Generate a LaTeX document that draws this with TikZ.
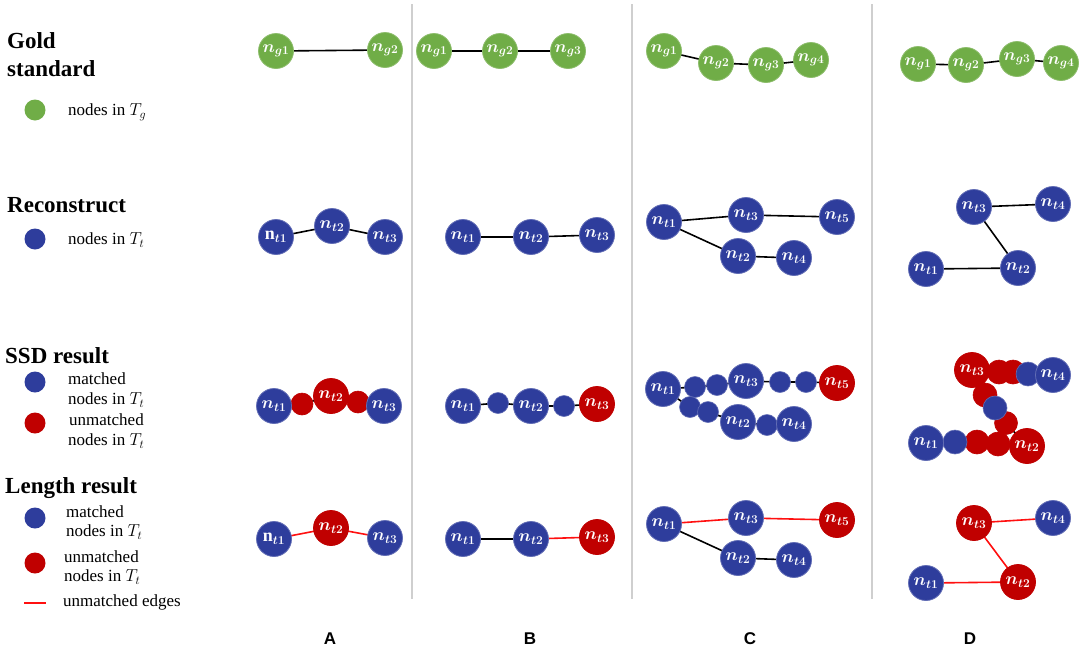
\documentclass[tikz,border=0pt]{standalone}
\usepackage{fontspec}
\setmainfont{Liberation Serif}
\newfontfamily\lettersans{Liberation Sans}
\usetikzlibrary{backgrounds}
\pgfdeclarelayer{back}
\pgfsetlayers{back,background,main}
\definecolor{ggreen}{HTML}{70AD47}
\definecolor{bblue}{HTML}{2E3D9C}
\definecolor{rred}{HTML}{C00000}
\definecolor{redgecol}{HTML}{FF1010}
\definecolor{sepgray}{HTML}{CFCFCF}
\begin{document}
\begin{tikzpicture}[x=1pt,y=-1pt,
  nd/.style={circle,inner sep=0pt,minimum size=35pt,text=white,font=\fontsize{18}{18}\selectfont\boldmath,line width=0.8pt},
  gn/.style={nd,fill=ggreen,draw=ggreen!80!white},
  bn/.style={nd,fill=bblue,draw=bblue!75!white},
  rn/.style={nd,fill=rred,draw=rred},
  sbn/.style={circle,inner sep=0pt,minimum size=21pt,fill=bblue,draw=bblue!75!white,line width=0.6pt},
  srn/.style={circle,inner sep=0pt,minimum size=22pt,fill=rred,draw=rred,line width=0.6pt},
  bk/.style={line width=1.6pt,black},
  rdg/.style={line width=1.6pt,redgecol},
  ttl/.style={font=\fontsize{23}{23}\selectfont\bfseries,anchor=base west,inner sep=0pt},
  leg/.style={font=\fontsize{17}{17}\selectfont,anchor=west,inner sep=0pt},
  lgc/.style={circle,inner sep=0pt,minimum size=21pt},
  colname/.style={font=\lettersans\fontsize{17}{17}\selectfont\bfseries,inner sep=0pt},
  sepline/.style={line width=2pt,sepgray}
]
\useasboundingbox (0,0) rectangle (1084,654);
\begin{pgfonlayer}{back}
\fill[white] (0,0) rectangle (1084,654);
\end{pgfonlayer}

% separators
\coordinate (s1t) at (412,4); \coordinate (s1b) at (412,599);
\coordinate (s2t) at (632,4); \coordinate (s2b) at (632,599);
\coordinate (s3t) at (872,4); \coordinate (s3b) at (872,599);
\draw[sepline] (s1t) -- (s1b);
\draw[sepline] (s2t) -- (s2b);
\draw[sepline] (s3t) -- (s3b);

% legend
\node[ttl] (t1) at (7,48) {Gold};
\node[ttl] (t2) at (7,76) {standard};
\node[lgc,fill=ggreen] (lg1) at (35,110) {};
\node[leg] (lt1) at (68,112) {nodes in $T_g$};

\node[ttl] (t3) at (7,212) {Reconstruct};
\node[lgc,fill=bblue] (lg2) at (35,239) {};
\node[leg] (lt2) at (68,240) {nodes in $T_t$};

\node[ttl] (t4) at (5,363) {SSD result};
\node[lgc,fill=bblue] (lg3) at (35,382) {};
\node[leg] (lt3) at (68,379) {matched};
\node[leg] (lt4) at (68,400) {nodes in $T_t$};
\node[lgc,fill=rred] (lg4) at (35,423) {};
\node[leg] (lt5) at (69,420) {unmatched};
\node[leg] (lt6) at (68,441) {nodes in $T_t$};

\node[ttl] (t5) at (5,493) {Length result};
\node[lgc,fill=bblue] (lg5) at (35,518) {};
\node[leg] (lt7) at (66,512) {matched};
\node[leg] (lt8) at (66,532) {nodes in $T_t$};
\node[lgc,fill=rred] (lg6) at (35,563) {};
\node[leg] (lt9) at (64,557) {unmatched};
\node[leg] (lt10) at (64,577) {nodes in $T_t$};
\coordinate (lr1) at (24,603); \coordinate (lr2) at (46,603);
\draw[line width=2.5pt,redgecol] (lr1) -- (lr2);
\node[leg] (lt11) at (63,602) {unmatched edges};

% column names
\node[colname] (LA) at (330,639) {A};
\node[colname] (LB) at (530,639) {B};
\node[colname] (LC) at (750,639) {C};
\node[colname] (LD) at (970,639) {D};

% ---------- Gold standard
\node[gn] (Ag1) at (276,51) {$n_{g1}$};
\node[gn] (Ag2) at (385,50) {$n_{g2}$};
\node[gn] (Bg1) at (434,51) {$n_{g1}$};
\node[gn] (Bg2) at (500,51) {$n_{g2}$};
\node[gn] (Bg3) at (568,51) {$n_{g3}$};
\node[gn] (Cg1) at (664,51) {$n_{g1}$};
\node[gn] (Cg2) at (716,63) {$n_{g2}$};
\node[gn] (Cg3) at (766,65) {$n_{g3}$};
\node[gn] (Cg4) at (811,60) {$n_{g4}$};
\node[gn] (Dg1) at (918,64) {$n_{g1}$};
\node[gn] (Dg2) at (966,65) {$n_{g2}$};
\node[gn] (Dg3) at (1017,59) {$n_{g3}$};
\node[gn] (Dg4) at (1061,63) {$n_{g4}$};

% ---------- Reconstruct
\node[bn] (Ar1) at (276,237) {$\mathrm{n}_{t1}$};
\node[bn] (Ar2) at (332,226) {$n_{t2}$};
\node[bn] (Ar3) at (385,237) {$n_{t3}$};
\node[bn] (Br1) at (463,237) {$n_{t1}$};
\node[bn] (Br2) at (531,237) {$n_{t2}$};
\node[bn] (Br3) at (597,235) {$n_{t3}$};
\node[bn] (Cr1) at (664,222) {$n_{t1}$};
\node[bn] (Cr3) at (746,215) {$n_{t3}$};
\node[bn] (Cr5) at (837,217) {$n_{t5}$};
\node[bn] (Cr2) at (738,256) {$n_{t2}$};
\node[bn] (Cr4) at (794,258) {$n_{t4}$};
\node[bn] (Dr3) at (974,207) {$n_{t3}$};
\node[bn] (Dr4) at (1053,204) {$n_{t4}$};
\node[bn] (Dr2) at (1018,268) {$n_{t2}$};
\node[bn] (Dr1) at (926,269) {$n_{t1}$};

% ---------- SSD result
\node[srn] (Asa) at (302,404) {};
\node[srn] (Asb) at (358,402) {};
\node[bn] (As1) at (274,406) {$n_{t1}$};
\node[rn] (As2) at (331,396) {$n_{t2}$};
\node[bn] (As3) at (384,406) {$n_{t3}$};

\node[sbn] (Bsa) at (498,403) {};
\node[sbn] (Bsb) at (564,406) {};
\node[bn] (Bs1) at (463,406) {$n_{t1}$};
\node[bn] (Bs2) at (531,406) {$n_{t2}$};
\node[rn] (Bs3) at (597,404) {$n_{t3}$};

\node[sbn] (Csa) at (695,387) {};
\node[sbn] (Csb) at (717,385) {};
\node[sbn] (Csc) at (780,382) {};
\node[sbn] (Csd) at (806,382) {};
\node[sbn] (Cse) at (690,407) {};
\node[sbn] (Csf) at (708,412) {};
\node[sbn] (Csg) at (767,425) {};
\node[bn] (Cs1) at (663,389) {$n_{t1}$};
\node[bn] (Cs3) at (746,381) {$n_{t3}$};
\node[rn] (Cs5) at (837,383) {$n_{t5}$};
\node[bn] (Cs2) at (738,422) {$n_{t2}$};
\node[bn] (Cs4) at (794,424) {$n_{t4}$};

\node[srn,minimum size=24pt] (Dsa) at (999,372) {};
\node[srn,minimum size=24pt] (Dsb) at (1013,372) {};
\node[srn,minimum size=24pt] (Dsd) at (985,395) {};
\node[srn,minimum size=23pt] (Dsf) at (1006,423) {};
\node[srn,minimum size=24pt] (Dsg) at (998,444) {};
\node[srn,minimum size=24pt] (Dsh) at (977,442) {};
\node[sbn,minimum size=24pt] (Dsc) at (1028,374) {};
\node[sbn,minimum size=24pt] (Dse) at (995,408) {};
\node[sbn,minimum size=24pt] (Dsi) at (955,442) {};
\node[rn] (Ds3) at (972,370) {$n_{t3}$};
\node[bn] (Ds4) at (1053,375) {$n_{t4}$};
\node[rn] (Ds2) at (1027,446) {$n_{t2}$};
\node[bn] (Ds1) at (926,443) {$n_{t1}$};

% ---------- Length result
\node[bn] (Al1) at (274,539) {$\mathrm{n}_{t1}$};
\node[rn] (Al2) at (331,528) {$n_{t2}$};
\node[bn] (Al3) at (385,538) {$n_{t3}$};
\node[bn] (Bl1) at (463,539) {$n_{t1}$};
\node[bn] (Bl2) at (531,539) {$n_{t2}$};
\node[rn] (Bl3) at (597,537) {$n_{t3}$};
\node[bn] (Cl1) at (664,524) {$n_{t1}$};
\node[bn] (Cl3) at (746,518) {$n_{t3}$};
\node[rn] (Cl5) at (837,520) {$n_{t5}$};
\node[bn] (Cl2) at (738,558) {$n_{t2}$};
\node[bn] (Cl4) at (794,560) {$n_{t4}$};
\node[rn] (Dl3) at (974,523) {$n_{t3}$};
\node[bn] (Dl4) at (1053,518) {$n_{t4}$};
\node[rn] (Dl2) at (1018,582) {$n_{t2}$};
\node[bn] (Dl1) at (926,583) {$n_{t1}$};

% ---------- edges (behind nodes)
\begin{scope}[on background layer]
\draw[bk] (Ag1.center) -- (Ag2.center);
\draw[bk] (Bg1.center) -- (Bg2.center) -- (Bg3.center);
\draw[bk] (Cg1.center) -- (Cg2.center) -- (Cg3.center) -- (Cg4.center);
\draw[bk] (Dg1.center) -- (Dg2.center) -- (Dg3.center) -- (Dg4.center);

\draw[bk] (Ar1.center) -- (Ar2.center) -- (Ar3.center);
\draw[bk] (Br1.center) -- (Br2.center) -- (Br3.center);
\draw[bk] (Cr1.center) -- (Cr3.center) -- (Cr5.center);
\draw[bk] (Cr1.center) -- (Cr2.center) -- (Cr4.center);
\draw[bk] (Dr3.center) -- (Dr4.center);
\draw[bk] (Dr3.center) -- (Dr2.center);
\draw[bk] (Dr1.center) -- (Dr2.center);

\draw[bk] (As1.center) -- (Asa.center) -- (As2.center) -- (Asb.center) -- (As3.center);
\draw[bk] (Bs1.center) -- (Bsa.center) -- (Bs2.center) -- (Bsb.center) -- (Bs3.center);
\draw[bk] (Cs1.center) -- (Csa.center) -- (Csb.center) -- (Cs3.center) -- (Csc.center) -- (Csd.center) -- (Cs5.center);
\draw[bk] (Cs1.center) -- (Cse.center) -- (Csf.center) -- (Cs2.center) -- (Csg.center) -- (Cs4.center);
\draw[bk] (Ds3.center) -- (Dsa.center) -- (Dsb.center) -- (Dsc.center) -- (Ds4.center);
\draw[bk] (Ds3.center) -- (Dsd.center) -- (Dse.center) -- (Dsf.center) -- (Ds2.center);
\draw[bk] (Ds1.center) -- (Dsi.center) -- (Dsh.center) -- (Dsg.center) -- (Ds2.center);

\draw[rdg] (Al1.center) -- (Al2.center) -- (Al3.center);
\draw[bk] (Bl1.center) -- (Bl2.center);
\draw[rdg] (Bl2.center) -- (Bl3.center);
\draw[rdg] (Cl1.center) -- (Cl3.center) -- (Cl5.center);
\draw[bk] (Cl1.center) -- (Cl2.center) -- (Cl4.center);
\draw[rdg] (Dl3.center) -- (Dl4.center);
\draw[rdg] (Dl3.center) -- (Dl2.center);
\draw[rdg] (Dl1.center) -- (Dl2.center);
\end{scope}
\end{tikzpicture}
\end{document}
